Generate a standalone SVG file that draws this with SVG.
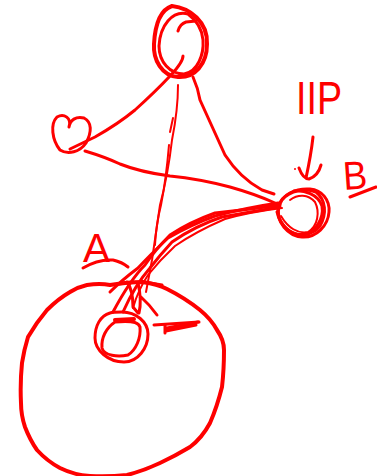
<svg xmlns="http://www.w3.org/2000/svg" width="377" height="476" viewBox="0 0 377 476">
<style>
.s{fill:none;stroke:#fe0000;stroke-width:3;stroke-linecap:round;stroke-linejoin:round}
.t{stroke-width:2}
.h{stroke-width:4}
.l{fill:#fe0000;font-family:"Liberation Sans",Arial,sans-serif}
</style>
<rect width="377" height="476" fill="#ffffff"/>
<g id="connectors" class="s">
<path d="M183 56Q183 62 171 75Q155 92 135 110Q118 124 95 137L70 149"/>
<path d="M85 151Q105 157 120 164Q140 172 170 176Q200 179 230 187Q255 194 275 203"/>
<path d="M193 77Q198 88 200 100Q210 122 225 155Q240 178 262 190L274 194"/>
<path class="t" d="M178 85Q178 110 172 140Q168 175 160 205Q155 240 152 260L146 292"/>
<path class="t" d="M173 118L170 132M169 145Q166 180 161 205Q156 225 155 245"/>
<path d="M280 205Q245 210 215 213Q190 222 170 235Q155 250 145 265Q130 280 113 312"/>
<path d="M280 207Q250 212 222 217Q195 226 172 242Q160 255 150 268Q135 285 123 312"/>
<path class="t" d="M282 208Q250 212 225 219Q195 232 175 246Q160 260 148 275Q138 290 133 308"/>
<path d="M278 203Q245 208 215 216Q190 225 168 238Q150 255 138 268Q122 280 110 292"/>
<path d="M127 282Q133 290 133 307L138 313M138 283Q142 300 139 313M140 296Q150 305 157 315"/>
<path d="M118 284Q140 280 162 285"/>
</g>
<g id="node-top" class="s">
<path class="h" d="M172 6C190 8 208 22 207 44C207 64 195 78 178 77C162 76 153 60 154 44C155 26 160 10 172 6"/>
<path d="M188 14C172 10 160 26 159 46C159 62 170 74 184 74C198 72 204 54 203 40C202 28 196 20 188 14"/>
<path d="M178 31Q180 24 186 22L196 21"/>
</g>
<g id="node-left" class="s">
<path d="M69 127C72 118 64 113 57 117C50 124 52 140 60 150C68 155 80 152 86 143C92 132 92 122 84 118C76 116 70 120 69 127"/>
</g>
<g id="node-b" class="s">
<path d="M278 207C282 194 296 188 310 189C322 190 330 200 329 212C328 226 316 238 302 237C288 236 276 222 278 207"/>
<path d="M282 200C290 190 306 188 316 192C326 200 327 214 320 226C312 236 296 238 286 228C278 220 276 210 282 200"/>
<path d="M277 212C280 226 292 236 304 235C316 232 324 218 322 206C318 194 304 190 294 191"/>
<path class="t" d="M281 216C288 228 298 234 308 232C318 226 320 212 315 202C308 194 298 194 290 200"/>
</g>
<g id="node-a" class="s">
<path class="h" d="M87 285Q100 283 110 285Q128 282 143 282Q157 284 167 289Q185 298 200 310Q211 319 217 330Q224 340 224 350Q224 370 222 387Q217 407 210 423Q202 438 190 447Q175 456 160 463Q143 471 127 475Q108 477 90 476Q74 475 60 468Q47 461 37 450Q30 440 25 427Q21 415 21 403Q20 383 22 363Q24 350 28 337Q36 323 47 310Q58 299 70 292Q78 287 87 285"/>
</g>
<g id="node-inner" class="s">
<path d="M110 313C100 316 95 326 95 338C95 350 108 362 124 362C138 362 148 348 148 334C148 322 136 312 122 312C117 312 113 312 110 313"/>
<path d="M115 322C106 328 101 338 102 348C104 356 118 357 128 355C136 350 141 338 140 327C138 320 125 321 115 322"/>
<path class="h" d="M115 320L134 319"/>
</g>
<g id="mark" class="s">
<path d="M154 325L199 322"/>
<path d="M165 333L165 325M166 331L196 325M167 328L198 322"/>
</g>
<g id="label-ip">
<text class="l" x="296" y="114" font-size="46" textLength="46" lengthAdjust="spacingAndGlyphs">IIP</text>
<path class="s" d="M313 137Q311 155 306 178M299 168Q303 179 309 179Q318 176 321 165"/>
<circle cx="295" cy="169" r="1" fill="#fe0000"/>
</g>
<g id="label-b">
<text class="l" x="344" y="190" font-size="40" textLength="24" lengthAdjust="spacingAndGlyphs" transform="rotate(-4 344 190)">B</text>
<path class="s" d="M350 197L376 187"/>
</g>
<g id="label-a">
<text class="l" x="83" y="262" font-size="41" textLength="27" lengthAdjust="spacingAndGlyphs">A</text>
<path class="s" d="M83 268Q98 259 113 260Q122 262 128 267"/>
</g>
</svg>
